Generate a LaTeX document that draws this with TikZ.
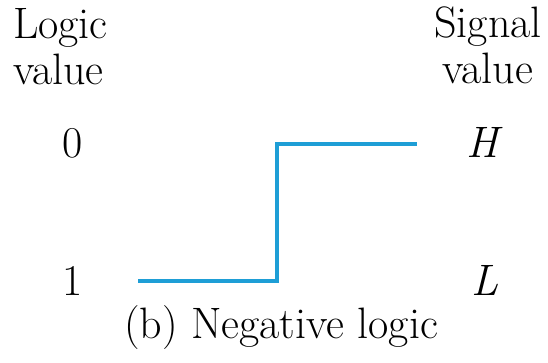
\documentclass[tikz,border=0pt]{standalone}
\usepackage{xcolor}
\usepackage{tikz}
\usetikzlibrary{positioning, calc}
\definecolor{sigblue}{RGB}{30,158,214}
\newcommand{\nivel}[4]{%
  \node[val, anchor=base] (log#2) at (73,#1) {#3};
  \node[val, anchor=base] (sig#2) at (485,#1) {\textit{#4}};%
}

\begin{document}
\begin{tikzpicture}[x=1pt, y=-1pt,
    val/.style={font=\fontsize{44}{46}\selectfont, inner sep=0pt},
    wave/.style={sigblue, line width=4pt}]
        \useasboundingbox (0,0) rectangle (548,362);
        \node[val, align=left, anchor=north west] (hdrlog) at (13,8) {Logic\\value};
        \node[val, align=center, anchor=north] (hdrsig) at (488,7) {Signal\\value};
        \nivel{157}{alto}{0}{H}
        \nivel{295}{bajo}{1}{L}
        \draw[wave] (138,281) -- (277,281) -- (277,144) -- (417,144);
        \node[val, anchor=base] (titulo) at (281,338) {(b) Negative logic};
      \end{tikzpicture}
\end{document}
